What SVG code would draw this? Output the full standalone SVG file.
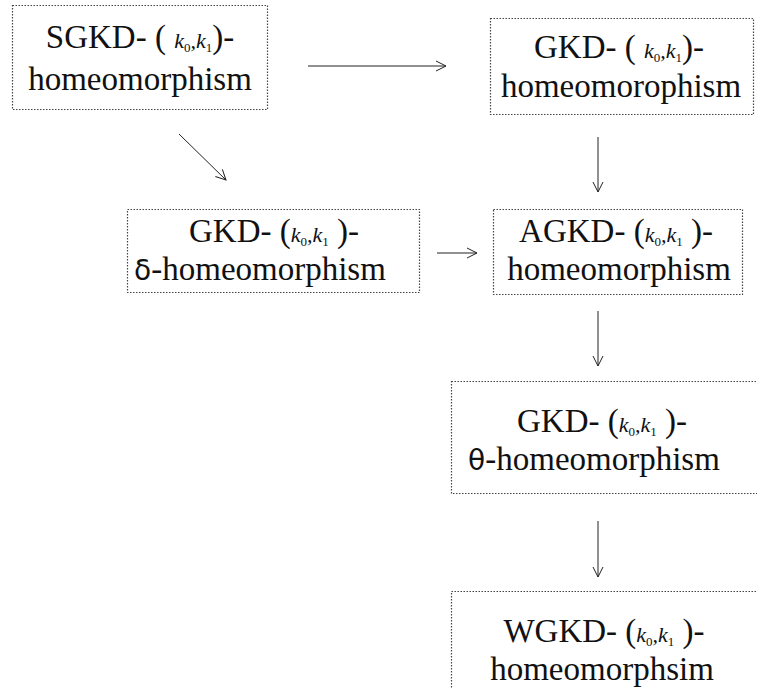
<svg xmlns="http://www.w3.org/2000/svg" width="757" height="688" viewBox="0 0 757 688">
<defs>
<style>
.box{fill:#fff;stroke:#444;stroke-width:1.2;stroke-dasharray:1.5 1.5}
text{font-family:'Liberation Serif',serif;font-size:33px;fill:#111;text-anchor:middle}
.k{font-family:'Liberation Serif',serif;font-style:italic;font-size:22px}
.s{font-size:13px}
.g{font-family:'DejaVu Sans',sans-serif;font-size:28px;font-weight:normal}
.c{stroke:#222;stroke-width:1;fill:none}
</style>
<marker id="ah" viewBox="0 0 12 12" refX="11" refY="6" markerWidth="12" markerHeight="12" markerUnits="userSpaceOnUse" orient="auto">
<polyline points="1,1 11,6 1,11" fill="none" stroke="#222" stroke-width="1"/>
</marker>
</defs>
<rect width="757" height="688" fill="#fff"/>
<g id="connectors">
<line class="c" x1="308" y1="66" x2="446" y2="66" marker-end="url(#ah)"/>
<line class="c" x1="179" y1="134" x2="226" y2="180" marker-end="url(#ah)"/>
<line class="c" x1="598" y1="137" x2="598" y2="192" marker-end="url(#ah)"/>
<line class="c" x1="437" y1="253" x2="477" y2="253" marker-end="url(#ah)"/>
<line class="c" x1="598" y1="311" x2="598" y2="366" marker-end="url(#ah)"/>
<line class="c" x1="598" y1="521" x2="598" y2="577" marker-end="url(#ah)"/>
</g>
<g id="n1">
<rect class="box" x="12.5" y="5.5" width="255" height="104"/>
<text x="140" y="48">SGKD- ( <tspan class="k">k</tspan><tspan class="s" dy="4">0</tspan><tspan class="k" dy="-4">,k</tspan><tspan class="s" dy="4">1</tspan><tspan dy="-4">)-</tspan></text>
<text x="140" y="90">homeomorphism</text>
</g>
<g id="n2">
<rect class="box" x="490.5" y="18.5" width="263" height="96"/>
<text x="619" y="58">GKD- ( <tspan class="k">k</tspan><tspan class="s" dy="4">0</tspan><tspan class="k" dy="-4">,k</tspan><tspan class="s" dy="4">1</tspan><tspan dy="-4">)-</tspan></text>
<text x="621" y="97">homeomorophism</text>
</g>
<g id="n3">
<rect class="box" x="127.5" y="209.5" width="292" height="83"/>
<text x="274" y="242">GKD- (<tspan class="k">k</tspan><tspan class="s" dy="4">0</tspan><tspan class="k" dy="-4">,k</tspan><tspan class="s" dy="4">1</tspan><tspan dy="-4"> )-</tspan></text>
<text x="260" y="280"><tspan class="g">δ</tspan>-homeomorphism</text>
</g>
<g id="n4">
<rect class="box" x="493.5" y="209.5" width="249" height="85"/>
<text x="616" y="242">AGKD- (<tspan class="k">k</tspan><tspan class="s" dy="4">0</tspan><tspan class="k" dy="-4">,k</tspan><tspan class="s" dy="4">1</tspan><tspan dy="-4"> )-</tspan></text>
<text x="619" y="280">homeomorphism</text>
</g>
<g id="n5">
<rect class="box" x="451.5" y="381.5" width="310" height="112"/>
<text x="602" y="432">GKD- (<tspan class="k">k</tspan><tspan class="s" dy="4">0</tspan><tspan class="k" dy="-4">,k</tspan><tspan class="s" dy="4">1</tspan><tspan dy="-4"> )-</tspan></text>
<text x="594" y="470"><tspan class="g">θ</tspan>-homeomorphism</text>
</g>
<g id="n6">
<rect class="box" x="451.5" y="591.5" width="310" height="110"/>
<text x="604" y="642">WGKD- (<tspan class="k">k</tspan><tspan class="s" dy="4">0</tspan><tspan class="k" dy="-4">,k</tspan><tspan class="s" dy="4">1</tspan><tspan dy="-4"> )-</tspan></text>
<text x="602" y="680">homeomorphsim</text>
</g>
</svg>
